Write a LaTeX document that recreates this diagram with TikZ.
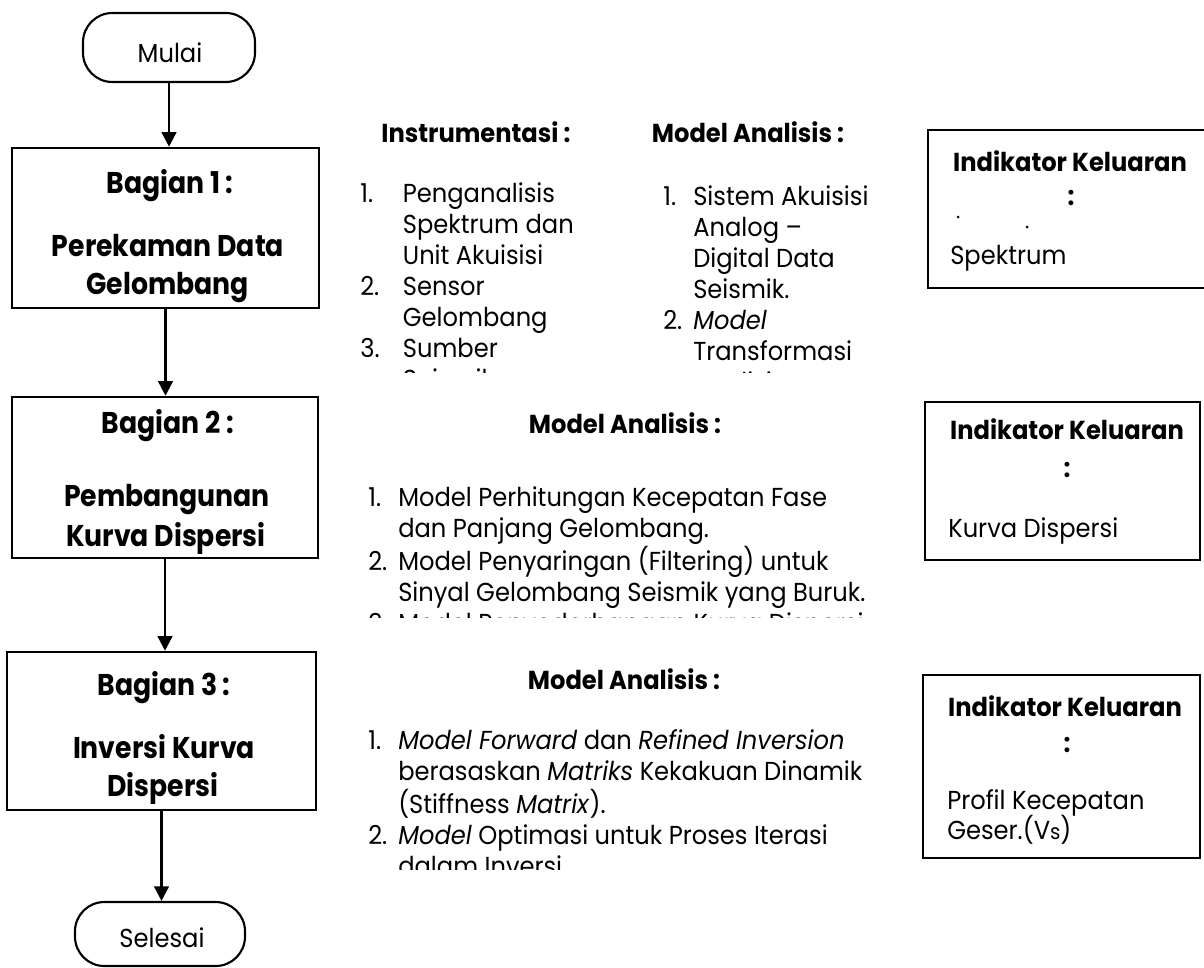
\documentclass[tikz,border=0pt]{standalone}
\usepackage{fontspec}
\setmainfont{Poppins}[FakeStretch=0.93]
\newfontfamily\titlefont{Poppins}[FakeStretch=0.89]
\usetikzlibrary{arrows.meta}
\newcommand{\bodysize}{\fontsize{19.5}{23.25}\selectfont}
\newcommand{\titlesize}{\titlefont\fontsize{22.5}{28}\selectfont\bfseries}

\begin{document}
\begin{tikzpicture}[x=0.75pt,y=-0.75pt,
  flowbox/.style={draw, line width=1.9pt, inner sep=0pt},
  termbox/.style={draw, line width=1.6pt, rounded corners=22pt, inner sep=0pt},
  outbox/.style={draw, line width=1.6pt, inner sep=0pt},
  flowarrow/.style={line width=1.9pt, -{Triangle[width=11pt,length=11pt]}},
  title/.style={font=\titlesize, inner sep=0pt, anchor=base},
  head/.style={font=\bodysize\bfseries, inner sep=0pt, anchor=base},
  body/.style={font=\bodysize, inner sep=0pt, anchor=base},
  bodyleft/.style={font=\bodysize, inner sep=0pt, anchor=base west},
  listing/.style={font=\bodysize, inner sep=0pt, anchor=north west},
]
\useasboundingbox (0,0) rectangle (1204,968);

% flow column
\node[termbox, minimum width=172*0.75pt, minimum height=69*0.75pt] (mulai) at (169,47.5) {};
\node[body] (mulaitxt) at (170,62) {Mulai};

\node[flowbox, minimum width=307*0.75pt, minimum height=160*0.75pt] (b1) at (165.5,228) {};
\node[title] (b1a) at (170,193) {Bagian 1 :};
\node[title] (b1b) at (168,256) {Perekaman Data};
\node[title] (b1c) at (167.5,294) {Gelombang};

\node[flowbox, minimum width=306*0.75pt, minimum height=161*0.75pt] (b2) at (165,477.5) {};
\node[title] (b2a) at (168,433) {Bagian 2 :};
\node[title] (b2b) at (167,506) {Pembangunan};
\node[title] (b2c) at (166,546) {Kurva Dispersi};

\node[flowbox, minimum width=309*0.75pt, minimum height=158*0.75pt] (b3) at (161.5,731) {};
\node[title] (b3a) at (164,695) {Bagian 3 :};
\node[title] (b3b) at (164,758) {Inversi Kurva};
\node[title] (b3c) at (163,796) {Dispersi};

\node[termbox, minimum width=170*0.75pt, minimum height=64*0.75pt] (selesai) at (160,934) {};
\node[body] (selesaitxt) at (162,947) {Selesai};

\draw[flowarrow] (mulai.south) -- (mulai.south |- b1.north);
\draw[flowarrow] (b1.south) -- (b1.south |- b2.north);
\draw[flowarrow] (b2.south) -- (b2.south |- b3.north);
\draw[flowarrow] (b3.south) -- (b3.south |- selesai.north);

% part 1: instruments and models
\node[head] (h1a) at (476,142) {Instrumentasi :};
\node[head] (h1b) at (748,142) {Model Analisis :};
\begin{scope}
  \clip (340,100) rectangle (920,372);
  \node[listing] (instr) at (360,180.3) {\begin{tabular}{@{}p{32pt}@{}l@{}}
    1. & Penganalisis\\
       & Spektrum dan\\
       & Unit Akuisisi\\
    2. & Sensor\\
       & Gelombang\\
    3. & Sumber\\
       & Seismik
  \end{tabular}};
  \node[listing] (model1) at (663,183.3) {\begin{tabular}{@{}p{22.5pt}@{}l@{}}
    1. & Sistem Akuisisi\\
       & Analog --\\
       & Digital Data\\
       & Seismik.\\
    2. & \textit{Model}\\
       & Transformasi\\
       & Analisis
  \end{tabular}};
\end{scope}

% part 2
\node[head] (h2) at (625,433) {Model Analisis :};
\begin{scope}
  \clip (340,440) rectangle (920,617);
  \node[listing] (model2) at (368,484.3) {\begin{tabular}{@{}p{22.5pt}@{}l@{}}
    1. & Model Perhitungan Kecepatan Fase\\
       & dan Panjang Gelombang.\\
    2. & Model Penyaringan (Filtering) untuk\\
       & Sinyal Gelombang Seismik yang Buruk.\\
    3. & Model Penyederhanaan Kurva Dispersi.
  \end{tabular}};
\end{scope}

% part 3
\node[head] (h3) at (624,689) {Model Analisis :};
\begin{scope}
  \clip (340,700) rectangle (920,869);
  \node[listing] (model3) at (368,727.3) {\begin{tabular}{@{}p{22.5pt}@{}l@{}}
    1. & \textit{Model Forward} dan \textit{Refined Inversion}\\
       & berasaskan \textit{Matriks} Kekakuan Dinamik\\
       & (Stiffness \textit{Matrix}).\\
    2. & \textit{Model} Optimasi untuk Proses Iterasi\\
       & dalam Inversi.
  \end{tabular}};
\end{scope}

% output indicators
\node[outbox, minimum width=287*0.75pt, minimum height=158*0.75pt] (out1) at (1071.5,209) {};
\node[head] (out1t) at (1070,171) {Indikator Keluaran};
\node[head] (out1c) at (1071,205) {:};
\fill (958,217) circle (1.5) (1027,227) circle (1.5);
\node[bodyleft] (out1s) at (950,264) {Spektrum};

\node[outbox, minimum width=275*0.75pt, minimum height=158*0.75pt] (out2) at (1062.5,481) {};
\node[head] (out2t) at (1067,439) {Indikator Keluaran};
\node[head] (out2c) at (1067,477) {:};
\node[bodyleft] (out2s) at (948,537) {Kurva Dispersi};

\node[outbox, minimum width=277*0.75pt, minimum height=183*0.75pt] (out3) at (1061.5,766.5) {};
\node[head] (out3t) at (1065,716) {Indikator Keluaran};
\node[head] (out3c) at (1067,752) {:};
\node[bodyleft] (out3s) at (947,809) {Profil Kecepatan};
\node[bodyleft] (out3g) at (947,839) {Geser.(V{\fontsize{16}{18}\selectfont s})};
\end{tikzpicture}
\end{document}
